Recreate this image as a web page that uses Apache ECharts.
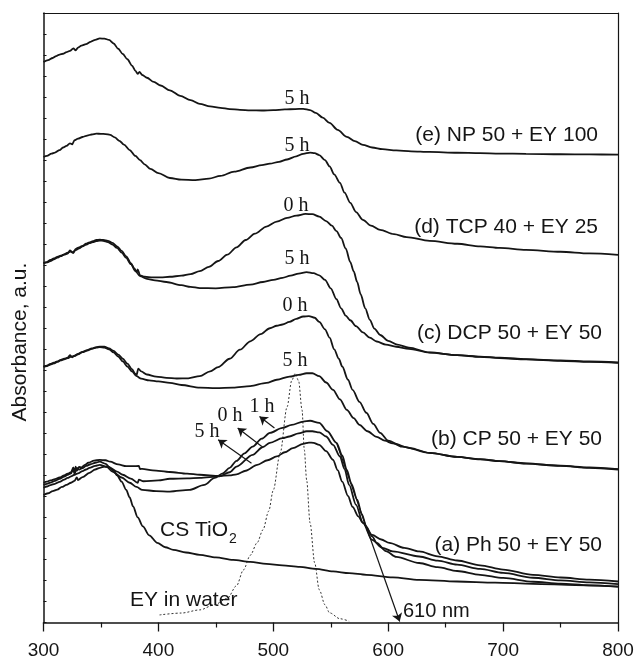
<!DOCTYPE html>
<html><head><meta charset="utf-8">
<script src="https://cdn.jsdelivr.net/npm/echarts@6/dist/echarts.min.js"></script>
<style>html,body{margin:0;padding:0;background:#fff}#c{width:634px;height:660px}</style>
</head><body><div id="c"></div>
<script>
// x axis (wavelength, nm) and y axis (absorbance, arbitrary units)
const xMin = 300, xMax = 800, xMajor = 100;
const yMin = 0, yMax = 29;

// (e) NP 50 + EY 100, 5 h
const curveE = [[300,26.67],[304,26.76],[308,26.86],[311,26.95],[314,27.02],[317,27.06],[320,27.14],[323,27.2],[326,27.32],[328,27.22],[330,27.35],[333,27.45],[337,27.52],[341,27.63],[345,27.72],[349,27.79],[353,27.78],[357,27.72],[361,27.55],[365,27.3],[369,27.05],[373,26.8],[377,26.5],[380,26.25],[382,26.1],[383.5,26.2],[386,26.05],[390,25.92],[396,25.72],[402,25.55],[410,25.32],[419,25.06],[428,24.85],[436,24.68],[445,24.56],[454,24.49],[462,24.43],[471,24.39],[480,24.37],[490,24.36],[500,24.38],[510,24.41],[519,24.43],[526,24.44],[532,24.38],[537,24.25],[543,24.02],[549,23.77],[556,23.44],[564,23.11],[571,22.9],[578,22.73],[586,22.6],[595,22.52],[607,22.46],[620,22.42],[636,22.39],[660,22.35],[680,22.33],[697,22.31],[720,22.3],[750,22.28],[775,22.27],[800,22.26]];
// (d) TCP 40 + EY 25, 5 h
const curveD = [[300,22.15],[303,22.2],[307,22.31],[310,22.36],[314,22.48],[317,22.6],[320,22.68],[323,22.8],[325,22.75],[327,22.95],[330,23.02],[334,23.1],[338,23.17],[342,23.22],[346,23.26],[350,23.25],[354,23.24],[358,23.2],[362,23.08],[366,22.92],[370,22.74],[375,22.48],[380,22.2],[384,22.0],[388,21.8],[393,21.58],[400,21.38],[410,21.15],[420,21.07],[432,21.05],[444,21.12],[454,21.25],[466,21.45],[480,21.65],[490,21.76],[497,21.83],[505,21.92],[512,22.03],[520,22.18],[526,22.3],[532,22.36],[536,22.33],[540,22.24],[545,22.0],[549,21.7],[553,21.32],[558,20.92],[562,20.45],[567,19.97],[572,19.53],[578,19.16],[585,18.88],[593,18.68],[605,18.48],[616,18.34],[636,18.16],[660,18.02],[680,17.9],[697,17.82],[720,17.73],[750,17.64],[775,17.56],[800,17.49]];
// (c) DCP 50 + EY 50, 0 h and 5 h
const curveC0 = [[300,17.11],[303,17.15],[306,17.25],[309,17.32],[312,17.4],[315,17.45],[318,17.52],[321,17.6],[324,17.66],[326,17.58],[328,17.78],[331,17.85],[334,17.92],[337,18.02],[340,18.08],[343,18.14],[346,18.2],[349,18.22],[352,18.2],[356,18.16],[360,18.06],[364,17.9],[368,17.68],[372,17.42],[376,17.1],[379,16.85],[381,16.68],[382,16.8],[384,16.52],[388,16.45],[395,16.42],[402,16.42],[410,16.45],[420,16.5],[428,16.58],[436,16.72],[444,16.92],[452,17.2],[460,17.5],[468,17.85],[476,18.2],[484,18.5],[494,18.84],[503,19.07],[512,19.25],[520,19.36],[528,19.44],[534,19.43],[540,19.31],[546,19.1],[551,18.88],[555,18.62],[559,18.3],[563,17.8],[567,17.15],[570,16.7],[573,16.2],[576,15.62],[580,14.95],[584,14.4],[588,13.98],[593,13.68],[600,13.4],[608,13.22],[618,13.08],[636,12.85],[660,12.72],[680,12.64],[697,12.58],[720,12.52],[750,12.45],[775,12.4],[800,12.35]];
const curveC5 = [[300,17.08],[303,17.13],[306,17.2],[309,17.28],[312,17.36],[315,17.43],[318,17.5],[321,17.55],[323,17.7],[325,17.6],[328,17.72],[331,17.8],[334,17.9],[337,17.98],[340,18.05],[343,18.1],[346,18.15],[349,18.17],[352,18.16],[356,18.1],[360,17.98],[364,17.82],[368,17.6],[372,17.35],[376,17.05],[380,16.72],[384,16.48],[390,16.35],[397,16.28],[407,16.2],[420,16.05],[428,15.97],[436,15.91],[450,15.9],[465,15.96],[480,16.08],[491,16.2],[500,16.3],[508,16.4],[515,16.5],[522,16.6],[529,16.67],[535,16.62],[540,16.52],[545,16.3],[550,15.9],[555,15.38],[559,14.95],[563,14.6],[567,14.38],[572,14.1],[578,13.8],[584,13.55],[590,13.37],[598,13.22],[607,13.12],[618,13.02],[636,12.84],[660,12.72],[680,12.65],[697,12.6],[720,12.53],[750,12.47],[775,12.42],[800,12.37]];
// (b) CP 50 + EY 50, 0 h and 5 h
const curveB0 = [[300,12.18],[303,12.22],[306,12.3],[309,12.36],[312,12.42],[315,12.5],[318,12.55],[321,12.6],[323,12.72],[325,12.62],[327,12.7],[330,12.78],[334,12.88],[338,12.96],[342,13.04],[346,13.1],[349,13.13],[353,13.12],[357,13.04],[361,12.92],[365,12.75],[369,12.55],[373,12.32],[377,12.05],[380,11.83],[381,11.78],[382.5,12.08],[385,11.95],[390,11.8],[398,11.7],[407,11.64],[416,11.61],[426,11.62],[436,11.72],[445,11.95],[452,12.15],[462,12.55],[471,12.98],[480,13.38],[489,13.72],[497,14.0],[503,14.12],[508,14.18],[514,14.3],[520,14.45],[526,14.56],[531,14.58],[536,14.5],[540,14.3],[545,13.95],[549,13.55],[553,13.0],[557,12.55],[560,12.18],[565,11.55],[569,11.07],[575,10.5],[581,9.98],[587,9.45],[593,9.02],[600,8.65],[612,8.37],[636,8.07],[660,7.88],[680,7.76],[697,7.68],[720,7.56],[750,7.45],[775,7.36],[800,7.28]];
const curveB5 = [[300,12.16],[303,12.2],[306,12.27],[309,12.33],[312,12.4],[315,12.47],[318,12.52],[321,12.58],[324,12.65],[327,12.68],[330,12.76],[334,12.86],[338,12.94],[342,13.02],[346,13.08],[349,13.1],[353,13.08],[357,13.0],[361,12.85],[365,12.65],[369,12.42],[373,12.18],[377,11.95],[381,11.72],[385,11.6],[392,11.52],[400,11.47],[410,11.4],[420,11.3],[436,11.18],[450,11.15],[465,11.18],[480,11.25],[494,11.4],[503,11.55],[514,11.7],[522,11.78],[529,11.86],[534,11.86],[540,11.72],[546,11.42],[552,11.07],[558,10.62],[564,10.12],[570,9.72],[575,9.4],[582,9.1],[590,8.83],[597,8.65],[604,8.52],[619,8.3],[636,8.07],[660,7.88],[680,7.77],[697,7.68],[720,7.57],[750,7.46],[775,7.38],[800,7.3]];
// (a) Ph 50 + EY 50, 5 h, 0 h, 1 h
const curveA5 = [[300,6.65],[303,6.7],[306,6.76],[310,6.82],[314,6.9],[318,7.0],[321,7.08],[324,7.15],[326,7.38],[327,7.12],[328,7.42],[329,7.22],[331,7.4],[333,7.38],[336,7.5],[339,7.6],[344,7.7],[349,7.74],[354,7.72],[358,7.65],[365,7.52],[372,7.44],[378,7.44],[383,7.45],[384,7.3],[386,7.31],[395,7.24],[410,7.16],[425,7.08],[436,7.03],[453,6.98],[462,7.0],[468,7.05],[476,7.22],[486,7.5],[495,7.72],[503,7.9],[510,8.1],[517,8.3],[526,8.5],[531,8.56],[535,8.55],[540,8.45],[546,8.15],[552,7.74],[556,7.25],[560,6.7],[565,6.02],[569,5.5],[574,5.05],[578,4.74],[586,4.17],[594,3.95],[601,3.79],[614,3.55],[627,3.38],[643,3.15],[660,2.95],[680,2.72],[700,2.52],[726,2.27],[750,2.14],[775,2.04],[800,1.95]];
const curveA0 = [[300,6.55],[303,6.6],[306,6.66],[310,6.74],[314,6.84],[318,6.94],[321,7.02],[324,7.1],[326,7.3],[327,7.07],[329,7.35],[331,7.28],[334,7.35],[337,7.45],[341,7.53],[345,7.6],[349,7.65],[354,7.55],[358,7.36],[364,7.18],[369,7.03],[376,6.85],[382,6.65],[383,6.8],[387,6.72],[400,6.76],[410,6.84],[425,6.86],[436,6.88],[453,6.95],[462,7.15],[468,7.42],[482,7.98],[491,8.35],[497,8.55],[508,8.77],[514,8.85],[522,9.0],[529,9.1],[534,9.1],[540,9.05],[546,8.85],[552,8.45],[558,7.9],[562,7.3],[566,6.55],[572,5.6],[578,4.74],[586,3.93],[595,3.55],[604,3.38],[627,3.14],[643,2.94],[660,2.75],[680,2.55],[700,2.36],[726,2.13],[750,2.0],[775,1.91],[800,1.83]];
const curveA1 = [[300,6.41],[303,6.47],[306,6.54],[310,6.6],[314,6.69],[318,6.8],[321,6.88],[324,6.95],[327,7.03],[330,7.1],[334,7.2],[337,7.28],[340,7.36],[345,7.45],[349,7.5],[355,7.4],[360,7.18],[368,6.9],[375,6.65],[381,6.45],[386,6.31],[398,6.25],[410,6.23],[427,6.31],[440,6.55],[449,6.88],[456,7.1],[462,7.36],[468,7.69],[475,8.05],[482,8.37],[490,8.75],[497,9.02],[508,9.26],[516,9.4],[526,9.56],[532,9.6],[540,9.5],[547,9.1],[555,8.55],[560,7.95],[564,7.26],[568,6.6],[573,5.84],[577,5.15],[581,4.55],[586,4.1],[590,3.79],[598,3.4],[607,3.12],[627,2.83],[643,2.63],[660,2.45],[680,2.27],[700,2.12],[726,1.94],[750,1.85],[775,1.77],[800,1.71]];
// CS TiO2
const curveCS = [[300,6.07],[304,6.15],[308,6.25],[312,6.32],[316,6.45],[320,6.55],[324,6.65],[327,6.74],[329,6.9],[330,6.78],[334,6.92],[340,7.12],[345,7.28],[349,7.36],[353,7.42],[357,7.4],[361,7.22],[364,7.0],[368,6.7],[372,6.31],[375,5.95],[378,5.52],[382,5.0],[386.5,4.57],[392,4.15],[399,3.79],[406,3.58],[413,3.46],[424,3.33],[436,3.22],[450,3.1],[465,2.98],[480,2.88],[494,2.79],[508,2.72],[523,2.65],[537,2.55],[552,2.43],[566,2.35],[581,2.27],[604,2.15],[627,2.03],[660,1.95],[693,1.9],[726,1.84],[763,1.78],[800,1.71]];
// EY in water (dotted)
const curveEY = [[401,0.36],[420,0.45],[436,0.6],[449,0.85],[460,1.15],[468,1.75],[474,2.5],[480,3.2],[486,3.8],[491,4.41],[496,5.3],[500,6.3],[506,8.07],[512,10.26],[516,11.5],[519,11.85],[522,11.5],[525,10.12],[527,8.22],[529,6.79],[532,4.74],[536,2.84],[540,1.56],[545,0.84],[549,0.46],[558,0.18],[566,0.06]];

// annotation arrows: [tail, head] in data units
const arrow1h = [[501,9.25],[488,9.8]];
const arrow0h = [[490,8.37],[469,9.25]];
const arrow5h = [[481,7.58],[452,8.69]];
const arrow610 = [[555,8.55],[610,0.05]];

const sans = '"Liberation Sans", Arial, sans-serif';
const serif = '"Liberation Serif", "Times New Roman", serif';
const ink = '#151515';

function curve(data, dotted) {
  return {
    type: 'line', data: data, showSymbol: false, symbol: 'none',
    smooth: 0.3, smoothMonotone: 'x', silent: true, animation: false,
    lineStyle: dotted ? {color: '#333', width: 1, type: [2, 2]} : {color: ink, width: 1.8},
    z: dotted ? 1 : 2
  };
}

function txt(x, y, text, opts) {
  opts = opts || {};
  return {
    type: 'text', x: x, y: y, rotation: opts.rot || 0, z: 100, silent: true,
    style: {
      text: text, fill: ink,
      font: (opts.size || 21) + 'px ' + (opts.font || sans),
      align: opts.align || 'left', verticalAlign: 'middle',
      textAlign: opts.align || 'left', textVerticalAlign: 'middle'
    }
  };
}

const frameAxis = {
  axisLine: {show: true, onZero: false, lineStyle: {color: ink, width: 1.2}},
  axisTick: {show: false}, axisLabel: {show: false}, splitLine: {show: false}
};

const chart = echarts.init(document.getElementById('c'), null, {renderer: 'canvas'});
chart.setOption({
  animation: false,
  backgroundColor: '#fff',
  grid: {left: 43.5, right: 16, top: 13, bottom: 37.5, show: false,
         containLabel: false, outerBoundsMode: 'none'},
  xAxis: [{
    type: 'value', min: xMin, max: xMax, interval: xMajor, position: 'bottom',
    axisLine: {show: true, onZero: false, lineStyle: {color: ink, width: 1.5}},
    axisTick: {show: true, inside: false, length: 9, lineStyle: {color: ink, width: 1.3}},
    minorTick: {show: true, splitNumber: 2, length: 5, lineStyle: {color: ink, width: 1.2}},
    splitLine: {show: false}, minorSplitLine: {show: false},
    axisLabel: {show: true, fontSize: 19, lineHeight: 14, verticalAlign: 'top',
                fontFamily: sans, color: ink, margin: 21}
  }, Object.assign({type: 'value', min: xMin, max: xMax, position: 'top'}, frameAxis)],
  yAxis: [{
    type: 'value', min: yMin, max: yMax, interval: 1, position: 'left',
    axisLine: {show: true, onZero: false, lineStyle: {color: ink, width: 1.5}},
    axisTick: {show: true, inside: true, length: 3, lineStyle: {color: ink, width: 1}},
    splitLine: {show: false},
    axisLabel: {show: false}
  }, Object.assign({type: 'value', min: yMin, max: yMax, position: 'right'}, frameAxis)],
  series: [
    curve(curveEY, true),
    curve(curveE), curve(curveD), curve(curveC0), curve(curveC5),
    curve(curveB0), curve(curveB5), curve(curveA5), curve(curveA0), curve(curveA1), curve(curveCS),
    {
      type: 'line', data: [], silent: true, animation: false,
      markLine: {
        silent: true, animation: false, symbol: ['none', 'arrow'], symbolSize: 8,
        label: {show: false},
        lineStyle: {type: 'solid', color: ink, width: 1.2},
        emphasis: {disabled: true},
        data: [arrow1h, arrow0h, arrow5h, arrow610].map(function (a) {
          return [{coord: a[0]}, {coord: a[1]}];
        })
      }
    }
  ],
  graphic: [
    txt(20, 342, 'Absorbance, a.u.', {rot: Math.PI / 2, align: 'center'}),
    txt(598, 135, '(e) NP 50 + EY 100', {align: 'right'}),
    txt(598, 227, '(d) TCP 40 + EY 25', {align: 'right'}),
    txt(602, 333, '(c) DCP 50 + EY 50', {align: 'right'}),
    txt(602, 439, '(b) CP 50 + EY 50', {align: 'right'}),
    txt(602, 545, '(a) Ph 50 + EY 50', {align: 'right'}),
    txt(403, 611, '610 nm', {size: 20}),
    txt(160, 530, 'CS TiO'),
    txt(229, 539, '2', {size: 14}),
    txt(130, 600, 'EY in water'),
    txt(297, 99, '5 h', {font: serif, size: 20, align: 'center'}),
    txt(297, 146, '5 h', {font: serif, size: 20, align: 'center'}),
    txt(296, 206, '0 h', {font: serif, size: 20, align: 'center'}),
    txt(297, 259, '5 h', {font: serif, size: 20, align: 'center'}),
    txt(295, 306, '0 h', {font: serif, size: 20, align: 'center'}),
    txt(295, 361, '5 h', {font: serif, size: 20, align: 'center'}),
    txt(262, 407, '1 h', {font: serif, size: 20, align: 'center'}),
    txt(230, 416, '0 h', {font: serif, size: 20, align: 'center'}),
    txt(207, 432, '5 h', {font: serif, size: 20, align: 'center'})
  ]
});
</script>
</body></html>
